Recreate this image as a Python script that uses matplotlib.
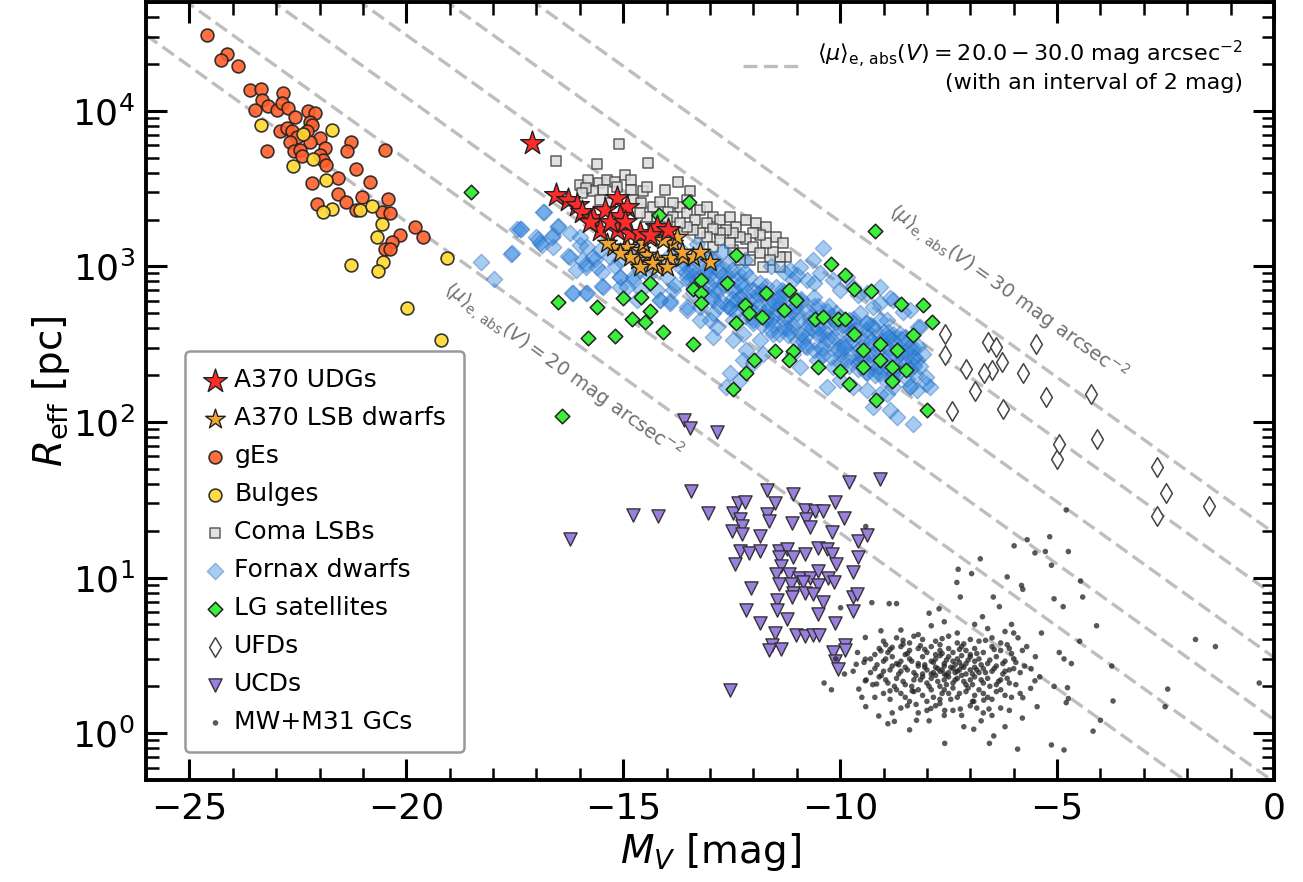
import numpy as np
import matplotlib.pyplot as plt
from matplotlib.ticker import LogLocator

# (M_V [mag], R_eff [pc]) for each sample
a370_udgs = [(-17.11, 6200), (-16.55, 2880), (-16.28, 2670), (-16.07, 2480), (-15.95, 2240), (-15.70, 2050),
             (-15.42, 2300), (-15.15, 2750), (-14.92, 2410), (-15.08, 2110), (-15.54, 1710), (-15.15, 1710),
             (-14.85, 1640), (-14.62, 1640), (-14.23, 1790), (-13.97, 1710), (-14.39, 1590), (-15.77, 1930),
             (-15.31, 1930), (-14.96, 1930)]

a370_lsb = [(-15.24, 1330), (-14.92, 1330), (-14.62, 1270), (-14.46, 1180), (-14.23, 1100), (-13.93, 1130),
            (-13.63, 1150), (-13.40, 1150), (-13.00, 1070), (-14.23, 990), (-14.00, 990), (-14.69, 1100),
            (-14.85, 1150), (-15.08, 1220), (-15.38, 1410), (-14.55, 1410), (-13.86, 1410), (-14.39, 1520),
            (-14.09, 1480), (-13.77, 1550), (-13.65, 1240), (-13.24, 1240), (-14.34, 1050), (-14.62, 990)]

ges = [(-24.60, 30800), (-24.14, 23300), (-24.26, 21300), (-23.89, 19500), (-23.60, 13600), (-23.36, 13800),
       (-22.84, 13000), (-23.33, 11800), (-23.18, 10700), (-23.49, 10100), (-22.99, 10100), (-22.87, 11200),
       (-22.72, 10400), (-22.57, 9100), (-22.26, 9900), (-22.11, 9700), (-22.22, 8500), (-22.18, 8100),
       (-22.91, 7400), (-22.76, 7700), (-22.64, 7400), (-22.53, 6800), (-22.30, 7400), (-21.99, 6700),
       (-22.22, 6300), (-22.68, 6300), (-21.88, 5800), (-22.59, 5500), (-22.45, 5600), (-22.41, 5100),
       (-21.99, 5200), (-21.91, 4800), (-21.84, 4500), (-23.22, 5500), (-21.28, 6300), (-21.36, 5500),
       (-20.49, 5600), (-21.17, 4200), (-21.57, 3700), (-22.18, 3450), (-20.84, 3500), (-21.57, 2900),
       (-21.38, 2600), (-21.03, 2800), (-20.42, 2700), (-22.05, 2500), (-21.15, 2300), (-20.57, 2250),
       (-20.38, 2200), (-19.80, 1800), (-19.62, 1550), (-20.15, 1600), (-20.34, 1440), (-20.49, 1300),
       (-20.38, 1300)]

bulges = [(-23.36, 8100), (-21.71, 7500), (-22.39, 7100), (-22.16, 4900), (-22.61, 4400), (-21.85, 3600),
          (-21.72, 2340), (-21.93, 2250), (-21.07, 2300), (-20.78, 2450), (-20.57, 1870), (-20.67, 1550),
          (-20.53, 1070), (-20.65, 940), (-21.28, 1020), (-19.06, 1140), (-19.99, 537), (-19.21, 335)]

coma_lsbs = [(-16.54, 4720), (-15.60, 4560), (-15.09, 6120), (-14.42, 4600), (-16.00, 3340), (-15.81, 3590),
             (-15.57, 3420), (-15.38, 3590), (-15.19, 3510), (-14.96, 3870), (-14.81, 3590), (-14.54, 3030),
             (-14.46, 3260), (-14.81, 3100), (-15.15, 3260), (-15.46, 3100), (-15.69, 3030), (-15.85, 3180),
             (-15.96, 2950), (-15.54, 2670), (-15.31, 2540), (-14.77, 2670), (-14.58, 2540), (-14.31, 2420),
             (-14.04, 3100), (-13.73, 3510), (-13.47, 3030), (-13.54, 2670), (-13.69, 2420), (-13.85, 2540),
             (-14.16, 2610), (-13.96, 2250), (-13.85, 2090), (-13.54, 2190), (-13.23, 2300), (-13.08, 2420),
             (-12.93, 2090), (-13.35, 1990), (-13.08, 1890), (-12.77, 1990), (-12.54, 2090), (-12.39, 1800),
             (-12.16, 1990), (-11.93, 1890), (-11.70, 1800), (-11.47, 1550), (-11.31, 1410), (-11.24, 1150),
             (-11.39, 1150), (-11.54, 1240), (-11.70, 1410), (-11.85, 1590), (-12.00, 1630), (-12.16, 1510),
             (-12.31, 1550), (-12.47, 1630), (-12.62, 1710), (-12.77, 1630), (-12.93, 1750), (-13.08, 1550),
             (-13.23, 1630), (-13.39, 1710), (-13.54, 1800), (-13.69, 1890), (-14.00, 1990), (-14.23, 2090),
             (-14.46, 2090), (-14.31, 1710), (-14.16, 1800), (-14.62, 2190), (-12.93, 1340), (-12.47, 1270),
             (-12.24, 1210), (-12.00, 1340), (-11.85, 1210), (-11.62, 1100), (-11.39, 995), (-12.77, 1480),
             (-12.54, 1410), (-12.08, 1100), (-11.77, 995), (-12.31, 1100)]

fornax = [(-16.83, 2230), (-17.35, 1730), (-17.46, 1730), (-17.59, 1200), (-18.27, 1060), (-17.98, 824),
          (-16.96, 1510), (-16.88, 1370), (-16.62, 1340), (-16.50, 1820), (-16.65, 1550), (-16.27, 1160),
          (-16.00, 1370), (-15.85, 1040), (-15.50, 746), (-16.19, 676), (-15.85, 676), (-15.08, 740),
          (-16.08, 946), (-15.66, 1120), (-16.23, 1630), (-16.84, 2250), (-17.38, 1750), (-17.00, 1550),
          (-16.92, 1410), (-17.57, 1210), (-16.61, 1580), (-16.50, 1800), (-16.23, 1150), (-16.00, 1550),
          (-15.84, 1340), (-15.96, 1100), (-15.69, 1150), (-15.54, 1270), (-15.85, 995), (-16.15, 670),
          (-15.84, 670), (-15.46, 740), (-15.61, 995), (-15.31, 1150), (-15.08, 857), (-15.08, 1100),
          (-14.77, 857), (-14.62, 946), (-14.92, 740), (-14.69, 607), (-14.23, 703), (-14.00, 857),
          (-14.15, 607), (-13.85, 703), (-13.92, 600), (-13.54, 857), (-13.69, 995), (-13.39, 670),
          (-13.54, 549), (-13.23, 549), (-12.93, 607), (-13.00, 451), (-12.85, 408), (-12.93, 352),
          (-13.23, 451), (-12.54, 549), (-12.31, 640), (-12.47, 451), (-12.24, 370), (-12.00, 451),
          (-12.47, 335), (-12.16, 289), (-12.54, 205), (-12.24, 249), (-12.00, 239), (-12.31, 185),
          (-12.62, 168), (-11.85, 335), (-11.77, 275), (-11.54, 370), (-11.70, 451), (-11.39, 549),
          (-11.24, 670), (-11.47, 740), (-11.08, 817), (-10.93, 995), (-11.16, 946), (-10.77, 817),
          (-10.47, 902), (-10.39, 1310), (-10.62, 1100), (-10.16, 817), (-9.85, 857), (-9.70, 740),
          (-9.39, 670), (-9.08, 740), (-8.78, 607), (-8.40, 523), (-8.16, 408), (-8.01, 194),
          (-7.93, 168), (-8.24, 160), (-8.32, 97.5), (-8.70, 108), (-8.85, 119), (-9.08, 152),
          (-9.39, 160), (-9.70, 168), (-10.01, 185), (-10.31, 168), (-10.16, 226), (-10.54, 249),
          (-10.93, 226), (-11.08, 275), (-10.77, 303), (-10.47, 370), (-10.16, 451), (-9.85, 408),
          (-9.55, 498), (-9.24, 408), (-8.93, 451), (-8.62, 370), (-8.32, 304), (-8.62, 275),
          (-8.93, 304), (-9.24, 275), (-9.55, 249), (-9.85, 249), (-9.70, 335), (-10.01, 304),
          (-9.39, 205), (-9.08, 205), (-8.78, 205), (-8.47, 226), (-8.09, 275), (-8.32, 249),
          (-8.78, 168), (-9.24, 125), (-8.93, 152), (-8.86, 622), (-9.09, 578), (-8.55, 510),
          (-8.20, 408), (-8.78, 370), (-8.40, 303), (-8.24, 249), (-8.40, 168), (-8.01, 176),
          (-9.24, 550), (-9.39, 430), (-9.09, 455), (-15.08, 857), (-14.77, 817), (-14.16, 607),
          (-13.93, 578), (-13.54, 523), (-12.93, 498),
          (-13.6, 1050), (-13.4, 980), (-13.3, 1100), (-13.1, 900), (-13.0, 1000), (-12.9, 820),
          (-12.8, 930), (-12.7, 760), (-12.6, 880), (-12.5, 700), (-12.4, 820), (-12.3, 640),
          (-12.2, 750), (-12.1, 600), (-12.0, 700), (-11.9, 560), (-11.8, 660), (-11.7, 520),
          (-11.6, 620), (-11.5, 480), (-11.4, 580), (-11.3, 450), (-11.2, 540), (-11.1, 420),
          (-11.0, 500), (-10.9, 600), (-10.8, 390), (-10.7, 470), (-10.6, 560), (-10.5, 360),
          (-10.4, 430), (-10.3, 520), (-10.2, 340), (-10.1, 400), (-10.0, 470), (-9.9, 310),
          (-9.8, 370), (-9.7, 430), (-9.6, 290), (-9.5, 340), (-9.4, 390), (-9.3, 270),
          (-9.2, 320), (-9.1, 360), (-9.0, 250), (-8.9, 300), (-8.8, 340), (-8.7, 230),
          (-8.6, 280), (-8.5, 320), (-8.4, 220), (-8.3, 260), (-13.2, 850), (-12.8, 700),
          (-12.4, 600), (-12.0, 520), (-11.6, 460), (-11.2, 400), (-10.8, 350), (-10.4, 300),
          (-10.0, 270), (-9.6, 240), (-9.2, 215), (-8.8, 200), (-13.5, 800), (-13.0, 760),
          (-12.6, 560), (-12.2, 480), (-11.8, 420), (-11.4, 370), (-11.0, 330), (-10.6, 290),
          (-10.2, 260), (-9.8, 230), (-9.4, 210), (-9.0, 190), (-12.9, 1100), (-12.5, 950),
          (-12.1, 850), (-11.7, 750), (-11.3, 680), (-10.9, 620), (-10.5, 560), (-10.1, 500),
          (-9.7, 460), (-9.3, 420), (-8.9, 380), (-8.5, 350),
          (-13.45, 950), (-13.35, 760), (-13.25, 1180), (-13.15, 690), (-13.05, 870), (-12.95, 640),
          (-12.85, 1000), (-12.75, 600), (-12.65, 800), (-12.55, 540), (-12.45, 720), (-12.35, 900),
          (-12.25, 560), (-12.15, 680), (-12.05, 470), (-11.95, 610), (-11.85, 780), (-11.75, 500),
          (-11.65, 560), (-11.55, 420), (-11.45, 530), (-11.35, 700), (-11.25, 470), (-11.15, 380),
          (-11.05, 560), (-10.95, 450), (-10.85, 330), (-10.75, 520), (-10.65, 400), (-10.55, 460),
          (-10.45, 300), (-10.35, 380), (-10.25, 560), (-10.15, 350), (-10.05, 290), (-9.95, 420),
          (-9.85, 330), (-9.75, 270), (-9.65, 390), (-9.55, 300), (-9.45, 250), (-9.35, 350),
          (-9.25, 240), (-9.15, 290), (-9.05, 330), (-8.95, 230), (-8.85, 270), (-8.75, 320),
          (-8.65, 210), (-8.55, 250), (-8.45, 190), (-8.35, 290), (-8.25, 200), (-8.15, 230),
          (-13.4, 870), (-13.2, 720), (-13.0, 1150), (-12.8, 560), (-12.6, 1030), (-12.4, 510),
          (-12.2, 920), (-12.0, 430), (-11.8, 690), (-11.6, 390), (-11.4, 640), (-11.2, 360),
          (-11.0, 610), (-10.8, 310), (-10.6, 640), (-10.4, 270), (-10.2, 480), (-10.0, 240),
          (-9.8, 450), (-9.6, 220), (-9.4, 430), (-9.2, 200), (-9.0, 380), (-8.8, 185),
          (-8.6, 340), (-8.4, 170), (-8.2, 310),
          (-13.55, 920), (-13.3, 800), (-13.1, 960), (-12.9, 700), (-12.7, 880), (-12.5, 620),
          (-12.3, 770), (-12.1, 540), (-11.9, 660), (-11.7, 470), (-11.5, 590), (-11.3, 410),
          (-11.1, 520), (-10.9, 370), (-10.7, 430), (-10.5, 400), (-10.3, 340), (-10.1, 440),
          (-9.9, 300), (-9.7, 380), (-9.5, 270), (-9.3, 330), (-9.1, 230), (-8.9, 350),
          (-8.7, 260), (-8.5, 280), (-8.3, 230),
          (-14.8, 1150), (-15.2, 1000), (-14.4, 880), (-13.9, 1200), (-14.1, 1050), (-13.7, 1300),
          (-15.5, 920), (-14.6, 700), (-13.8, 760), (-13.3, 1400), (-12.7, 1250), (-12.2, 1100),
          (-11.6, 1000), (-11.0, 880), (-10.6, 780), (-10.0, 700), (-9.6, 650), (-11.3, 920)]

lg_sats = [(-13.49, 2600), (-14.17, 2140), (-9.19, 1690), (-12.39, 1180), (-10.20, 1030), (-9.89, 879),
           (-13.20, 817), (-14.39, 784), (-12.60, 777), (-13.40, 711), (-13.20, 676), (-11.70, 676),
           (-11.18, 703), (-9.69, 711), (-9.30, 697), (-16.50, 592), (-15.60, 549), (-15.00, 622),
           (-14.60, 631), (-13.20, 583), (-14.39, 518), (-11.01, 607), (-12.20, 563), (-12.10, 502),
           (-11.30, 523), (-8.59, 571), (-8.09, 563), (-14.79, 462), (-14.50, 440), (-14.09, 379),
           (-13.39, 316), (-12.39, 430), (-11.79, 474), (-10.59, 462), (-10.39, 474), (-10.05, 462),
           (-9.89, 456), (-7.88, 440), (-9.69, 366), (-9.09, 316), (-8.32, 361), (-15.81, 344),
           (-15.19, 356), (-11.51, 286), (-11.09, 286), (-11.18, 249), (-9.47, 289), (-8.69, 289),
           (-9.09, 252), (-10.51, 224), (-10.01, 213), (-9.47, 226), (-8.80, 224), (-8.49, 215),
           (-11.99, 252), (-12.18, 205), (-8.80, 183), (-9.80, 176), (-9.18, 138), (-12.48, 164),
           (-7.99, 120), (-16.40, 110), (-18.51, 3020)]

ufds = [(-7.59, 366), (-6.59, 327), (-6.40, 304), (-5.48, 319), (-7.59, 268), (-6.28, 243), (-6.49, 217),
        (-6.69, 207), (-7.09, 220), (-5.78, 207), (-6.90, 158), (-5.25, 145), (-4.21, 152), (-7.43, 117),
        (-6.25, 122), (-4.09, 78), (-5.00, 58), (-4.95, 72), (-2.70, 51), (-2.50, 35), (-2.70, 25),
        (-1.50, 29)]

ucds = [(-16.23, 17.8), (-14.77, 25.4), (-14.20, 24.7), (-13.43, 35.9), (-13.04, 25.9), (-12.48, 25.9),
        (-12.35, 30.1), (-12.20, 30.5), (-11.68, 36.6), (-11.09, 34.2), (-9.80, 41.0), (-9.09, 43.1),
        (-10.11, 30.5), (-9.90, 24.0), (-10.81, 27.0), (-10.58, 26.6), (-10.40, 26.6), (-11.51, 30.1),
        (-11.68, 25.7), (-11.65, 23.2), (-12.30, 23.8), (-12.27, 21.6), (-11.11, 22.3), (-10.78, 23.8),
        (-10.70, 21.0), (-12.50, 19.8), (-12.27, 19.1), (-11.84, 18.6), (-10.19, 19.5), (-9.59, 17.3),
        (-9.39, 18.9), (-12.30, 14.9), (-12.09, 14.3), (-11.84, 14.9), (-11.42, 14.9), (-11.22, 15.3),
        (-11.40, 13.5), (-11.09, 13.5), (-10.81, 14.2), (-10.50, 15.5), (-10.31, 15.3), (-10.19, 14.2),
        (-9.59, 13.5), (-12.42, 12.2), (-11.37, 11.9), (-10.09, 12.2), (-9.70, 10.8), (-11.48, 10.5),
        (-11.17, 10.5), (-10.96, 10.0), (-10.70, 10.0), (-10.50, 11.1), (-10.27, 9.9), (-10.14, 9.4),
        (-11.42, 9.1), (-11.14, 9.1), (-10.86, 9.3), (-10.52, 8.9), (-12.06, 8.6), (-11.09, 8.0),
        (-10.81, 7.9), (-10.62, 7.8), (-11.45, 7.2), (-11.11, 7.5), (-9.70, 7.5), (-9.62, 7.8),
        (-10.40, 7.0), (-9.70, 6.1), (-12.17, 6.2), (-11.45, 6.2), (-10.50, 5.8), (-11.84, 5.1),
        (-11.22, 5.4), (-11.51, 4.4), (-11.01, 4.3), (-10.81, 4.2), (-10.62, 4.3), (-10.48, 4.3),
        (-10.11, 5.1), (-9.88, 3.7), (-11.58, 3.7), (-11.37, 3.5), (-11.65, 3.4), (-10.17, 3.3),
        (-9.88, 3.4), (-10.11, 2.9), (-10.04, 2.6), (-12.53, 1.9), (-13.60, 103), (-13.47, 91),
        (-12.83, 86)]

gcs = [(-4.79, 27.2), (-5.69, 17.5), (-5.17, 18.3), (-5.99, 16.0), (-5.51, 14.4), (-5.27, 14.7),
       (-4.74, 14.7), (-5.13, 12.0), (-6.77, 13.2), (-7.28, 11.3), (-6.97, 10.6), (-7.31, 9.3),
       (-6.15, 10.1), (-5.82, 8.9), (-5.79, 8.4), (-4.46, 9.5), (-5.07, 7.3), (-4.41, 7.5),
       (-4.86, 6.5), (-7.23, 7.5), (-6.47, 7.5), (-6.33, 6.5), (-7.95, 5.9), (-7.72, 6.3),
       (-8.87, 6.8), (-8.70, 6.8), (-9.27, 6.9), (-9.41, 21.3), (-9.99, 6.4), (-6.05, 5.0),
       (-6.72, 5.6), (-5.36, 4.4), (-4.09, 4.9), (-4.48, 3.9), (-4.95, 3.3), (-4.84, 3.0),
       (-4.67, 2.8), (-3.74, 2.7), (-5.07, 2.0), (-4.76, 1.96), (-5.51, 2.17), (-5.61, 1.94),
       (-5.79, 1.69), (-5.46, 1.48), (-4.74, 1.67), (-4.79, 1.57), (-3.71, 1.61), (-4.00, 1.21),
       (-4.17, 1.03), (-2.45, 1.92), (-2.51, 1.48), (-1.81, 4.0), (-1.35, 3.6), (-0.34, 2.1),
       (-10.37, 2.1), (-9.41, 1.48), (-9.11, 1.29), (-8.75, 1.19), (-8.24, 1.21), (-7.59, 0.86),
       (-6.92, 1.06), (-6.56, 0.86), (-6.46, 0.96), (-5.91, 0.79), (-5.13, 0.84), (-4.84, 0.78),
       (-6.57, 1.43), (-6.69, 1.63), (-6.92, 1.60), (-7.23, 1.43), (-7.59, 1.40), (-7.91, 1.44),
       (-8.25, 1.53), (-8.34, 1.87), (-8.85, 1.87), (-9.16, 2.07), (-9.57, 1.92), (-9.42, 2.17),
       (-9.63, 2.77), (-9.42, 2.99), (-9.06, 3.38), (-8.80, 3.56), (-9.06, 4.55), (-9.42, 4.12),
       (-8.55, 3.73),
       (-8.6, 4.6), (-7.9, 4.9), (-7.3, 4.4), (-6.9, 5.0), (-6.6, 4.7), (-7.6, 5.2), (-8.2, 4.3),
       (-6.2, 4.5), (-6.0, 4.4), (-9.0, 3.9), (-8.7, 4.1), (-8.4, 3.8), (-8.1, 4.0), (-7.8, 3.9),
       (-7.5, 4.2), (-7.3, 3.8), (-7.0, 4.0), (-6.8, 3.9), (-6.5, 4.1), (-6.3, 3.8), (-7.7, 3.7),
       (-8.3, 4.2), (-9.1, 3.5), (-8.9, 3.3), (-8.6, 3.6), (-8.4, 3.4), (-8.2, 3.5), (-8.0, 3.3),
       (-7.9, 3.6), (-7.7, 3.4), (-7.5, 3.5), (-7.4, 3.3), (-7.2, 3.6), (-7.1, 3.4), (-6.9, 3.5),
       (-6.7, 3.3), (-6.5, 3.6), (-6.3, 3.4), (-6.1, 3.5), (-8.5, 3.2), (-7.8, 3.2), (-7.0, 3.2),
       (-9.3, 3.0), (-9.0, 2.9), (-8.8, 3.1), (-8.6, 2.9), (-8.4, 3.0), (-8.2, 2.8), (-8.1, 3.1),
       (-7.9, 2.9), (-7.8, 3.0), (-7.6, 2.8), (-7.5, 3.1), (-7.4, 2.9), (-7.3, 3.0), (-7.1, 2.8),
       (-7.0, 3.1), (-6.9, 2.9), (-6.8, 3.0), (-6.6, 2.8), (-6.4, 3.1), (-6.2, 2.9), (-8.7, 2.8),
       (-7.7, 3.15), (-7.2, 3.15), (-6.0, 3.0), (-9.2, 2.6), (-9.0, 2.5), (-8.8, 2.7), (-8.6, 2.5),
       (-8.5, 2.65), (-8.3, 2.45), (-8.2, 2.7), (-8.0, 2.55), (-7.9, 2.4), (-7.8, 2.65), (-7.7, 2.5),
       (-7.6, 2.7), (-7.5, 2.45), (-7.4, 2.6), (-7.3, 2.5), (-7.2, 2.7), (-7.1, 2.4), (-7.0, 2.55),
       (-6.9, 2.65), (-6.8, 2.45), (-6.7, 2.6), (-6.5, 2.5), (-6.4, 2.7), (-6.2, 2.5), (-6.0, 2.6),
       (-8.1, 2.4), (-7.65, 2.55), (-7.35, 2.75), (-7.55, 2.35), (-9.4, 2.2), (-9.1, 2.3), (-8.9, 2.1),
       (-8.7, 2.25), (-8.5, 2.05), (-8.3, 2.2), (-8.1, 2.3), (-8.0, 2.1), (-7.9, 2.25), (-7.7, 2.0),
       (-7.6, 2.2), (-7.5, 2.3), (-7.4, 2.1), (-7.3, 2.25), (-7.1, 2.05), (-7.0, 2.2), (-6.9, 2.3),
       (-6.7, 2.1), (-6.6, 2.25), (-6.4, 2.05), (-6.3, 2.2), (-6.1, 2.1), (-7.8, 2.35), (-7.2, 2.35),
       (-9.0, 1.8), (-8.7, 1.9), (-8.5, 1.7), (-8.3, 1.85), (-8.1, 1.75), (-7.9, 1.9), (-7.7, 1.65),
       (-7.5, 1.8), (-7.4, 1.95), (-7.3, 1.7), (-7.1, 1.85), (-6.9, 1.75), (-6.8, 1.9), (-6.6, 1.7),
       (-6.4, 1.85), (-6.2, 1.75), (-7.6, 1.9), (-8.0, 1.6), (-8.6, 1.45), (-8.2, 1.35), (-7.8, 1.5),
       (-7.4, 1.4), (-7.0, 1.5), (-6.7, 1.35), (-6.3, 1.45), (-7.6, 1.3),
       (-8.9, 1.15), (-8.4, 1.05), (-7.95, 1.2), (-7.15, 1.1), (-6.75, 1.2), (-6.2, 1.1), (-5.8, 1.25),
       (-8.95, 3.7), (-8.55, 3.95), (-8.15, 3.65), (-7.65, 4.05), (-7.15, 3.75), (-6.65, 3.95),
       (-6.15, 3.7), (-5.9, 4.1), (-9.2, 3.2), (-8.85, 3.45), (-8.45, 3.25), (-8.05, 3.45),
       (-7.65, 3.25), (-7.25, 3.45), (-6.85, 3.25), (-6.45, 3.45), (-6.05, 3.25), (-5.8, 3.4),
       (-9.45, 2.85), (-9.15, 2.75), (-8.95, 3.0), (-8.65, 2.75), (-8.35, 2.9), (-8.05, 2.75),
       (-7.85, 2.85), (-7.55, 2.95), (-7.25, 2.85), (-7.05, 2.95), (-6.75, 2.75), (-6.55, 2.95),
       (-6.25, 2.8), (-5.95, 2.85), (-5.75, 2.7), (-9.3, 2.45), (-9.05, 2.35), (-8.85, 2.55),
       (-8.65, 2.4), (-8.45, 2.55), (-8.25, 2.35), (-8.05, 2.65), (-7.85, 2.45), (-7.75, 2.6),
       (-7.6, 2.4), (-7.45, 2.65), (-7.35, 2.45), (-7.25, 2.55), (-7.15, 2.65), (-6.95, 2.4),
       (-6.85, 2.55), (-6.65, 2.45), (-6.45, 2.6), (-6.25, 2.4), (-6.1, 2.55), (-5.85, 2.45),
       (-9.25, 2.05), (-8.95, 2.2), (-8.75, 2.0), (-8.55, 2.15), (-8.35, 2.0), (-8.15, 2.2),
       (-7.95, 2.0), (-7.75, 2.15), (-7.55, 2.05), (-7.35, 2.2), (-7.15, 2.15), (-6.95, 2.05),
       (-6.75, 2.2), (-6.55, 2.0), (-6.35, 2.15), (-6.15, 2.25), (-5.95, 2.05), (-9.2, 1.7),
       (-8.85, 1.65), (-8.6, 1.8), (-8.4, 1.6), (-8.2, 1.9), (-7.85, 1.7), (-7.65, 1.8),
       (-7.45, 1.65), (-7.25, 1.8), (-7.05, 1.95), (-6.95, 1.6), (-6.7, 1.8), (-6.5, 1.65),
       (-6.3, 1.9), (-6.05, 1.7), (-5.85, 1.8), (-8.8, 1.35), (-8.45, 1.5), (-8.0, 1.4),
       (-7.7, 1.55), (-7.2, 1.3), (-6.85, 1.45), (-6.5, 1.3), (-6.1, 1.4), (-9.6, 3.3),
       (-9.7, 2.5), (-9.5, 1.7), (-5.6, 2.6), (-5.5, 3.1), (-5.7, 3.6), (-5.4, 2.3), (-10.1, 3.0),
       (-9.9, 2.4), (-10.2, 1.9)]

# iso surface-brightness lines, <mu>_e,abs(V) in mag arcsec^-2
mu_levels = [20, 22, 24, 26, 28, 30]


def mu_line(mu, mv):
    # R_eff [pc] for a mean surface brightness mu at absolute magnitude mv
    return 10 ** ((mu - mv - 23.567) / 5.0)


def xy(points):
    arr = np.array(points, dtype=float)
    return arr[:, 0], arr[:, 1]


fig = plt.figure(figsize=(13.03, 8.82), dpi=100)
ax = fig.add_axes([146 / 1303, 102 / 882, 1128 / 1303, 778 / 882])
ax.set_yscale('log')
ax.set_xlim(-26, 0)
ax.set_ylim(0.5, 5e4)

mv_grid = np.linspace(-26, 0, 200)
for i, mu in enumerate(mu_levels):
    ax.plot(mv_grid, mu_line(mu, mv_grid), ls=(0, (4.2, 1.9)), color='#bebebe', lw=2.4, zorder=1,
            label=(r'$\langle\mu\rangle_{\rm e,\,abs}(V) = 20.0 - 30.0$ mag arcsec$^{-2}$'
                   '\n(with an interval of 2 mag)') if i == 0 else None)

handles = {}
x, y = xy(ges)
handles['gEs'] = ax.scatter(x, y, s=85, marker='o', c='#ff5f2a', edgecolors='#222222', linewidths=1.2, alpha=0.9, zorder=3)
x, y = xy(bulges)
handles['Bulges'] = ax.scatter(x, y, s=85, marker='o', c='#ffd92f', edgecolors='#222222', linewidths=1.2, alpha=0.9, zorder=3)
x, y = xy(coma_lsbs)
handles['Coma LSBs'] = ax.scatter(x, y, s=60, marker='s', c='#dddddd', edgecolors='#444444', linewidths=1.1, alpha=0.85, zorder=3)
x, y = xy(fornax)
handles['Fornax dwarfs'] = ax.scatter(x, y, s=70, marker='D', c='#2f86e0', edgecolors='#2a6ab8', linewidths=1.0, alpha=0.42, zorder=4)
x, y = xy(lg_sats)
handles['LG satellites'] = ax.scatter(x, y, s=55, marker='D', c='#3af03a', edgecolors='#222222', linewidths=1.1, zorder=5)
x, y = xy(ufds)
handles['UFDs'] = ax.scatter(x, y, s=100, marker='d', c='white', edgecolors='#444444', linewidths=1.1, zorder=5)
x, y = xy(ucds)
handles['UCDs'] = ax.scatter(x, y, s=90, marker='v', c='#9b7fe0', edgecolors='#333333', linewidths=1.0, zorder=5)
x, y = xy(gcs)
handles['MW+M31 GCs'] = ax.scatter(x, y, s=16, marker='o', c='#222222', edgecolors='none', alpha=0.75, zorder=5)
x, y = xy(a370_lsb)
handles['A370 LSB dwarfs'] = ax.scatter(x, y, s=220, marker='*', c='#f2a531', edgecolors='#222222', linewidths=1.0, zorder=6)
x, y = xy(a370_udgs)
handles['A370 UDGs'] = ax.scatter(x, y, s=320, marker='*', c='#ff2a2a', edgecolors='#222222', linewidths=1.0, zorder=7)

order = ['A370 UDGs', 'A370 LSB dwarfs', 'gEs', 'Bulges', 'Coma LSBs', 'Fornax dwarfs',
         'LG satellites', 'UFDs', 'UCDs', 'MW+M31 GCs']
leg = ax.legend([handles[k] for k in order], order, loc='lower left', fontsize=18,
                bbox_to_anchor=(0.035, 0.036), borderaxespad=0, handletextpad=0.25,
                labelspacing=0.56, framealpha=1, edgecolor='#999999', fancybox=True,
                borderpad=0.7, handlelength=1.0)
leg.get_frame().set_linewidth(1.8)
ax.add_artist(leg)

line_handle, = [l for l in ax.get_lines() if not l.get_label().startswith('_')]
leg2 = ax.legend([line_handle], [line_handle.get_label()], loc='upper right', fontsize=16,
                 frameon=False, handlelength=2.7, handletextpad=0.6,
                 bbox_to_anchor=(0.98, 0.965), borderaxespad=0)
for t in leg2.get_texts():
    t.set_multialignment('right')

# labels along the faintest and brightest lines
p1 = ax.transData.transform((-20, mu_line(20, -20)))
p2 = ax.transData.transform((-10, mu_line(20, -10)))
angle = np.degrees(np.arctan2(p2[1] - p1[1], p2[0] - p1[0]))
ax.text(-16.39, 215, r'$\langle\mu\rangle_{\rm e,\,abs}(V) = 20$ mag arcsec$^{-2}$', rotation=angle,
        rotation_mode='anchor', ha='center', va='center', fontsize=14, color='#707070', zorder=2)
ax.text(-6.14, 684, r'$\langle\mu\rangle_{\rm e,\,abs}(V) = 30$ mag arcsec$^{-2}$', rotation=angle,
        rotation_mode='anchor', ha='center', va='center', fontsize=14, color='#707070', zorder=2)

ax.set_xlabel(r'$M_V$ [mag]', fontsize=28, labelpad=4)
ax.set_ylabel(r'$R_{\rm eff}$ [pc]', fontsize=28, labelpad=0)
ax.set_xticks([-25, -20, -15, -10, -5, 0])
ax.set_xticks(np.arange(-26, 1, 1), minor=True)
ax.yaxis.set_major_locator(LogLocator(base=10, numticks=10))
ax.yaxis.set_minor_locator(LogLocator(base=10, subs=np.arange(2, 10), numticks=20))
ax.tick_params(which='both', direction='in', top=True, right=True, labelsize=26)
ax.tick_params(which='major', length=15, width=2.2, pad=8)
ax.tick_params(which='minor', length=9, width=1.8)
for sp in ax.spines.values():
    sp.set_linewidth(2.8)

fig.savefig('out.png', dpi=100)
